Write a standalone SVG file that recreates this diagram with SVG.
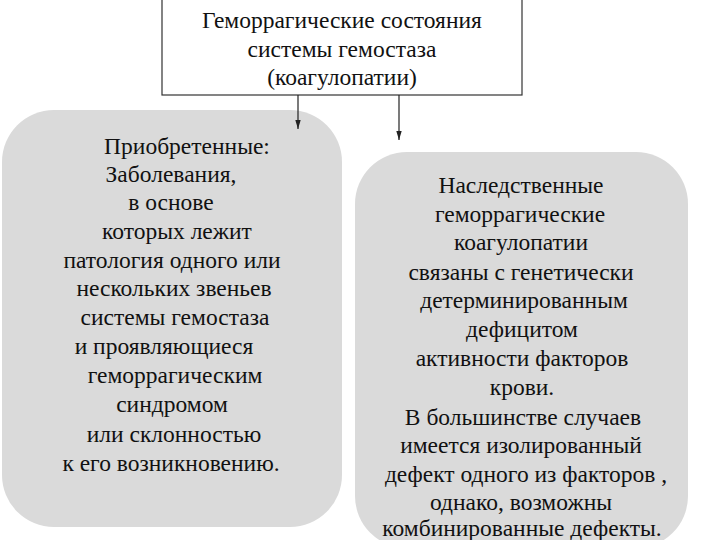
<svg xmlns="http://www.w3.org/2000/svg" width="720" height="540" viewBox="0 0 720 540">
<style>
text{font-family:'Liberation Serif','Times New Roman',serif;font-size:23.5px;fill:#111;text-anchor:middle}
.panel{fill:#dadada;stroke:none}
.box{fill:#fff;stroke:#333;stroke-width:1.2}
.conn{stroke:#222;stroke-width:1.2;fill:none;marker-end:url(#ah)}
</style>
<defs>
<marker id="ah" viewBox="0 0 10 6" refX="10" refY="3" markerWidth="9" markerHeight="5.4" markerUnits="userSpaceOnUse" orient="auto">
<path d="M0,0 L10,3 L0,6 z" fill="#222"/>
</marker>
</defs>
<rect width="720" height="540" fill="#fff"/>
<g id="top">
<rect class="box" x="162" y="-1" width="360" height="96"/>
<text x="342" y="28">Геморрагические состояния</text>
<text x="342" y="57">системы гемостаза</text>
<text x="342" y="85">(коагулопатии)</text>
</g>
<g id="acquired">
<rect class="panel" x="2" y="110" width="340" height="417" rx="52"/>
<text x="187" y="154">Приобретенные:</text>
<text x="171" y="182">Заболевания,</text>
<text x="171" y="210">в основе</text>
<text x="177" y="239">которых лежит</text>
<text x="172" y="268">патология одного или</text>
<text x="174" y="296">нескольких звеньев</text>
<text x="175" y="325">системы гемостаза</text>
<text x="164" y="354">и проявляющиеся</text>
<text x="175" y="383">геморрагическим</text>
<text x="172" y="412">синдромом</text>
<text x="174" y="442">или склонностью</text>
<text x="171" y="471">к его возникновению.</text>
</g>
<g id="hereditary">
<rect class="panel" x="355" y="152" width="333" height="396" rx="52"/>
<text x="521" y="193">Наследственные</text>
<text x="520" y="222">геморрагические</text>
<text x="521" y="250">коагулопатии</text>
<text x="521" y="280">связаны с генетически</text>
<text x="524" y="308">детерминированным</text>
<text x="522" y="337">дефицитом</text>
<text x="522" y="366">активности факторов</text>
<text x="522" y="395">крови.</text>
<text x="523" y="425">В большинстве случаев</text>
<text x="521" y="453">имеется изолированный</text>
<text x="526" y="482">дефект одного из факторов ,</text>
<text x="521" y="510">однако, возможны</text>
<text x="522" y="536">комбинированные дефекты.</text>
</g>
<g id="connectors">
<line class="conn" x1="298" y1="95" x2="298" y2="129"/>
<line class="conn" x1="399" y1="95" x2="399" y2="140"/>
</g>
</svg>
